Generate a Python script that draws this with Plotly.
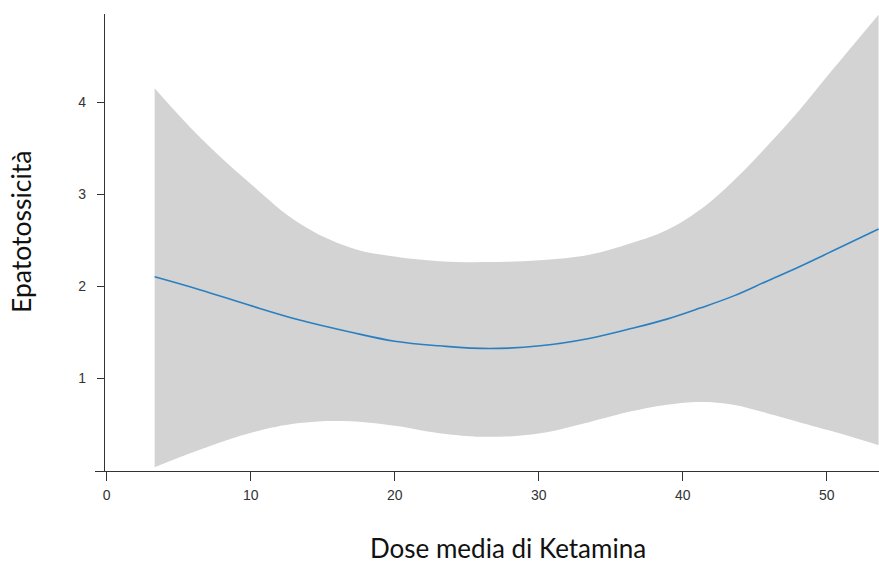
import plotly.graph_objects as go

dose = [3.33, 6.46, 9.93, 13.4, 16.9, 20.0, 23.1, 26.6, 30.1, 33.5, 36.5, 38.9, 41.2, 43.5, 45.8, 48.1, 50.4, 53.6]
fit = [2.10, 1.96, 1.79, 1.63, 1.50, 1.40, 1.35, 1.32, 1.35, 1.43, 1.54, 1.64, 1.76, 1.89, 2.05, 2.21, 2.38, 2.62]
upper = [4.15, 3.62, 3.12, 2.68, 2.42, 2.32, 2.27, 2.26, 2.28, 2.34, 2.47, 2.61, 2.83, 3.14, 3.51, 3.91, 4.35, 4.95]
lower = [0.03, 0.22, 0.40, 0.51, 0.53, 0.48, 0.40, 0.36, 0.40, 0.52, 0.64, 0.71, 0.74, 0.71, 0.62, 0.52, 0.42, 0.27]

x_ticks = [0, 10, 20, 30, 40, 50]
y_ticks = [1, 2, 3, 4]

fig = go.Figure()
fig.add_trace(go.Scatter(x=dose, y=lower, mode="lines", line=dict(width=0, shape="spline", smoothing=1.1),
                         showlegend=False, hoverinfo="skip"))
fig.add_trace(go.Scatter(x=dose, y=upper, mode="lines", line=dict(width=0, shape="spline", smoothing=1.1),
                         fill="tonexty", fillcolor="#d3d3d3", showlegend=False, hoverinfo="skip"))
fig.add_trace(go.Scatter(x=dose, y=fit, mode="lines", line=dict(color="#2a7fc1", width=1.6, shape="spline", smoothing=1.1),
                         showlegend=False))

axis_font = dict(family="Liberation Sans, Arial", size=14, color="#333333")
fig.update_layout(
    width=879, height=563,
    margin=dict(l=95, r=0, t=14, b=92),
    paper_bgcolor="white", plot_bgcolor="white",
    xaxis=dict(range=[-0.81, 53.63], tickvals=x_ticks, showgrid=False, zeroline=False,
               showline=True, linecolor="#333333", linewidth=1.3,
               ticks="outside", ticklen=9, tickcolor="#333333", tickwidth=1.3,
               tickfont=axis_font, ticklabelstandoff=2),
    yaxis=dict(range=[-0.011, 4.957], tickvals=y_ticks, showgrid=False, zeroline=False,
               anchor="free", position=(104 - 95) / 784,
               showline=True, linecolor="#333333", linewidth=1.3,
               ticks="outside", ticklen=7, tickcolor="#333333", tickwidth=1.3,
               tickfont=axis_font, ticklabelstandoff=8),
    annotations=[
        dict(text="Dose media di Ketamina", xref="paper", yref="paper",
             x=(508 - 95) / 784, y=-(548 - 471) / 457, xanchor="center", yanchor="middle",
             showarrow=False, font=dict(family="Lato", size=26, color="#111111")),
        dict(text="Epatotossicità", xref="paper", yref="paper",
             x=-(95 - 21) / 784, y=(471 - 232) / 457, xanchor="center", yanchor="middle",
             textangle=-90, showarrow=False, font=dict(family="Lato", size=26.5, color="#111111")),
    ],
)

fig.write_html(
    "out.html",
    config={"displayModeBar": False},
    post_script="document.body.style.margin='0';document.body.style.overflow='hidden';",
)
